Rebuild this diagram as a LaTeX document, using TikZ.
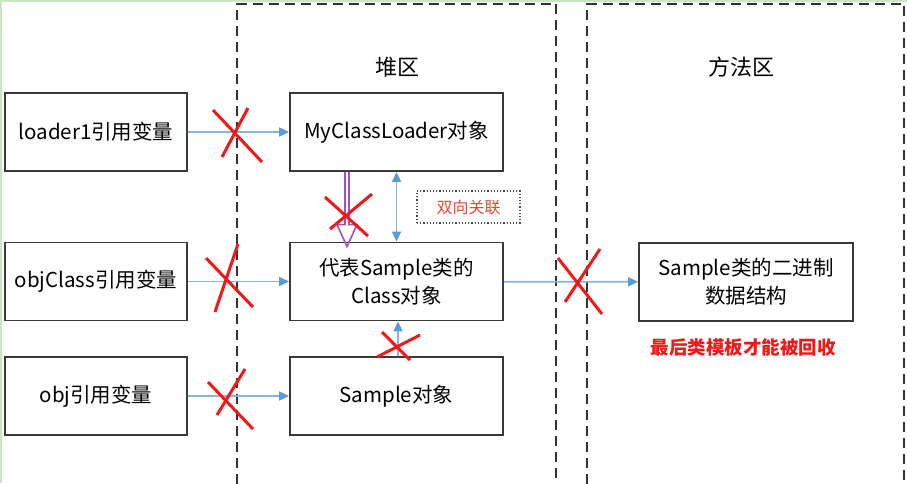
\documentclass[tikz,border=0pt]{standalone}
\usepackage{fontspec}
\setmainfont{Noto Sans CJK SC}
\usetikzlibrary{arrows.meta,calc}
\definecolor{boxline}{HTML}{3A3A3A}
\definecolor{flowblue}{HTML}{8AB4E0}
\definecolor{tipblue}{HTML}{5B9BD5}
\definecolor{xred}{HTML}{F01818}
\definecolor{purp}{HTML}{A050C8}
\definecolor{labred}{HTML}{E84530}
\definecolor{framegreen}{HTML}{C8E8C0}
\tikzset{
  box/.style={draw=boxline, line width=1.8pt, fill=white, minimum width=213pt, minimum height=78pt, inner sep=0pt, align=center, font=\fontsize{20.5}{28}\selectfont},
  varbox/.style={box, minimum width=182pt},
  region/.style={draw=black!80, line width=2pt, dash pattern=on 10pt off 6pt},
  flow/.style={draw=flowblue, line width=1.8pt, -{Triangle[length=10pt,width=9pt,color=tipblue]}},
  xmark/.style={draw=xred, line width=3pt},
}
\begin{document}
\begin{tikzpicture}[x=1pt,y=-1pt]
\useasboundingbox (0,0) rectangle (907,483);
\fill[white] (0,0) rectangle (907,483);
\clip (0,0) rectangle (907,483);
\draw[framegreen, line width=3pt] (0,483) -- (0,0) -- (907,0);
% regions
\draw[region] (237,500) -- (237,3.5) -- (556,3.5) -- (556,500);
\draw[region] (587,500) -- (587,3.5) -- (904,3.5) -- (904,500);
\node[font=\fontsize{22}{24}\selectfont] (heap) at (397,67) {堆区};
\node[font=\fontsize{22}{24}\selectfont] (meth) at (741,67) {方法区};
% boxes
\node[varbox] (var1) at (96,132) {loader1引用变量};
\node[varbox] (var2) at (96,281.5) {objClass引用变量};
\node[varbox] (var3) at (96,396) {obj引用变量};
\node[box] (mcl) at (396.5,132) {MyClassLoader对象};
\node[box] (cls) at (396.5,281.5) {代表Sample类的\\Class对象};
\node[box] (smp) at (396.5,396) {Sample对象};
\node[box, minimum width=214pt] (bin) at (746,282) {Sample类的二进制\\数据结构};
\node[draw=black!70, line width=1.2pt, dotted, minimum width=103pt, minimum height=32pt, inner sep=0pt, text=labred, font=\fontsize{16}{18}\selectfont] (assoc) at (468.5,207) {双向关联};
\node[text=xred, font=\fontsize{18.5}{20}\selectfont\bfseries] (note) at (743,347) {最后类模板才能被回收};
% connectors
\draw[flow] (var1) -- (mcl);
\draw[flow] (var2) -- (cls);
\draw[flow] (var3) -- (smp);
\draw[flow] (cls) -- (bin);
\draw[draw=flowblue, line width=1.8pt, {Triangle[length=10pt,width=9pt,color=tipblue]}-{Triangle[length=10pt,width=9pt,color=tipblue]}] (mcl.south) -- (cls.north);
\draw[flow] ([xshift=1.5pt]smp.north) -- ([xshift=1.5pt]cls.south);
% purple hollow arrow
\coordinate (pa) at ($(mcl.south)+(-49.5,0)$);
\coordinate (pb) at ($(cls.north)+(-49.5,5)$);
\draw[purp, line width=1.6pt, line join=miter]
  ($(pa)+(-2,0)$) -- ($(pb)+(-2,-22)$) -- ($(pb)+(-10,-22)$) -- (pb)
  -- ($(pb)+(10,-22)$) -- ($(pb)+(2,-22)$) -- ($(pa)+(2,0)$);
% red crosses
\draw[xmark] (213,110) -- (262,162) (248,108) -- (222,157);
\draw[xmark] (206,258) -- (253,307) (238,244) -- (215,312);
\draw[xmark] (208,382) -- (253,429) (245,369) -- (217,415);
\draw[xmark] (558,258) -- (602,314) (600,249) -- (565,302);
\draw[xmark] (325,197) -- (368,236) (372,194) -- (330,229);
\draw[xmark] (377,357) -- (420,335) (382,332) -- (410,360);
\end{tikzpicture}
\end{document}
